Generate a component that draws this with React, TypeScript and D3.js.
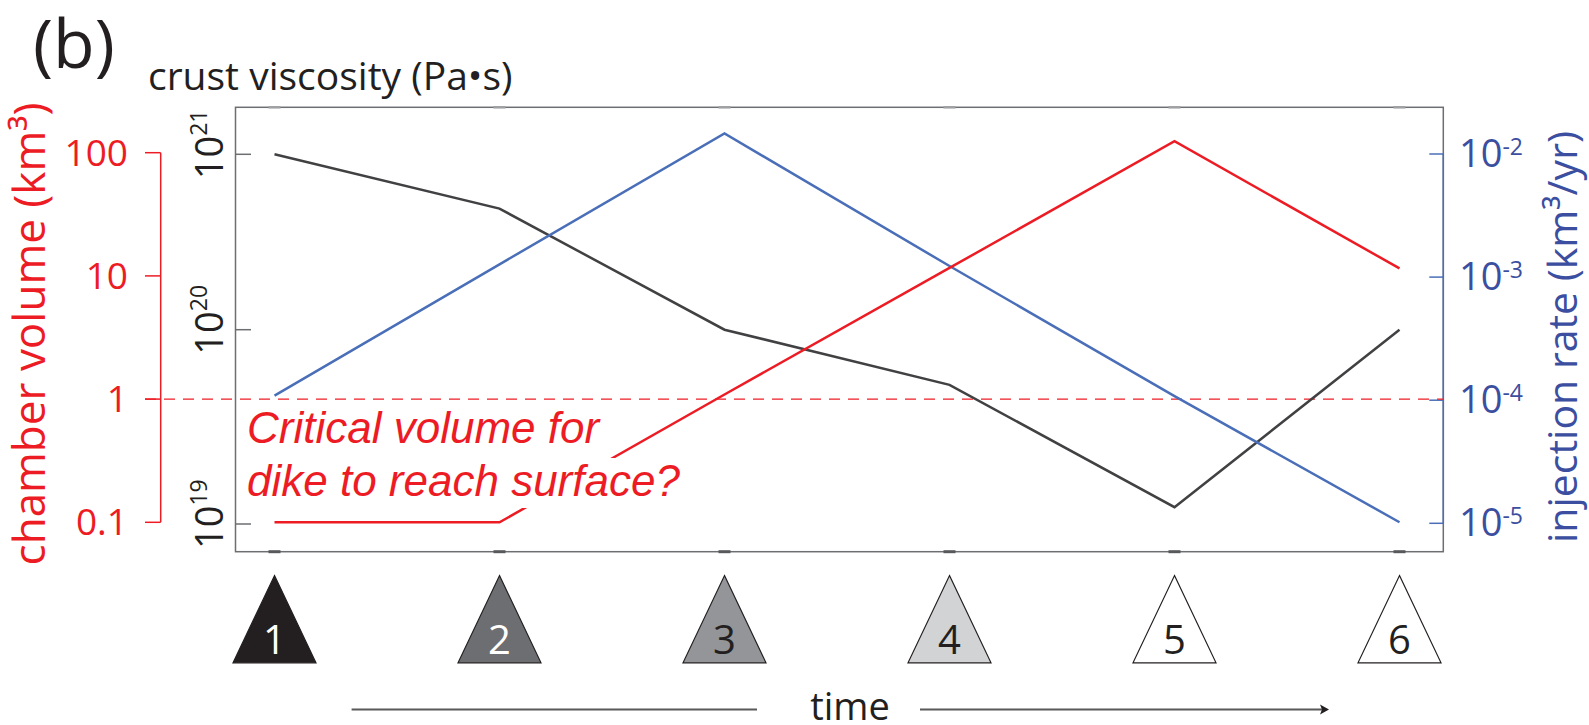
import React from "react";
import * as d3 from "d3";

// ---------- data ----------
const stages = [1, 2, 3, 4, 5, 6];
const stageLabels = ["1", "2", "3", "4", "5", "6"];
const stageFills = ["#231f20", "#6d6e71", "#939598", "#d1d3d4", "#ffffff", "#ffffff"];
const stageTextColors = ["#ffffff", "#ffffff", "#231f20", "#231f20", "#231f20", "#231f20"];

const chamberVolume = [0.1, 0.1, 1.09, 11.6, 124, 11.5]; // km^3
const crustViscosity = [1.0e21, 4.9e20, 1.0e20, 5.2e19, 1.22e19, 1.0e20]; // Pa s
const injectionRate = [1.09e-4, 1.27e-3, 1.47e-2, 1.23e-3, 1.08e-4, 1.02e-5]; // km^3/yr

const volumeTicks = [0.1, 1, 10, 100];
const volumeTickLabels = ["0.1", "1", "10", "100"];
const viscosityTicks = [1e19, 1e20, 1e21];
const viscosityExponents = ["19", "20", "21"];
const rateTicks = [1e-5, 1e-4, 1e-3, 1e-2];
const rateExponents = ["-5", "-4", "-3", "-2"];
const criticalVolume = 1;

// ---------- layout ----------
const W = 1589;
const H = 725;
const frame = { left: 235.5, right: 1443.3, top: 107.3, bottom: 551.7 };
const RED = "#ed1c24";
const BLUE_LINE = "#4a6fb8";
const BLUE_TEXT = "#3b4ea0";
const DARK = "#414042";
const GREY = "#6d6e71";
const SANS = "'Open Sans', 'Noto Sans', sans-serif";
const ITALIC = "'Liberation Sans', Arial, sans-serif";

export default function App() {
  const x = d3.scaleLinear().domain([1, 6]).range([274.5, 1399.5]);
  const yVol = d3.scaleLog().domain([0.1, 100]).range([522.3, 152.7]);
  const yVisc = d3.scaleLog().domain([1e19, 1e20, 1e21]).range([524, 329.7, 154.3]);
  const yRate = d3.scaleLog().domain([1e-5, 1e-2]).range([523.3, 154]);

  const mk = (vals: number[], ys: (v: number) => number) =>
    d3.line<number>().x((_, i) => x(stages[i])).y((v) => ys(v))(vals) || "";

  const redAxisX = 160.7;
  const triTop = 575.6;
  const triBase = 662.8;
  const triHalf = 41.5;
  const timeY = 709.5;

  return (
    <svg
      width={W}
      height={H}
      viewBox={`0 0 ${W} ${H}`}
      style={{ position: "absolute", left: 0, top: 0, background: "#fff" }}
    >
      <rect x={0} y={0} width={W} height={H} fill="#ffffff" />

      {/* panel label and top title */}
      <text x={33} y={68} fontFamily={SANS} fontSize={68} fill="#231f20">(b)</text>
      <text x={148} y={90} fontFamily={SANS} fontSize={39} fill="#231f20">crust viscosity (Pa•s)</text>

      {/* frame */}
      <rect
        x={frame.left}
        y={frame.top}
        width={frame.right - frame.left}
        height={frame.bottom - frame.top}
        fill="none"
        stroke={GREY}
        strokeWidth={1.5}
      />
      {/* stage tick marks on frame */}
      {stages.map((s) => (
        <g key={"ft" + s}>
          <line x1={x(s) - 6} x2={x(s) + 6} y1={frame.bottom} y2={frame.bottom} stroke="#58595b" strokeWidth={3} />
          <line x1={x(s) - 6} x2={x(s) + 6} y1={frame.top} y2={frame.top} stroke="#a0a1a3" strokeWidth={2.5} />
        </g>
      ))}

      {/* red axis (chamber volume) */}
      <line x1={redAxisX} x2={redAxisX} y1={yVol(0.1)} y2={yVol(100)} stroke={RED} strokeWidth={1.5} />
      {volumeTicks.map((t, i) => (
        <g key={"vt" + i}>
          <line x1={145} x2={redAxisX} y1={yVol(t)} y2={yVol(t)} stroke={RED} strokeWidth={1.5} />
          <text x={128} y={yVol(t) + 13} textAnchor="end" fontFamily={SANS} fontSize={37} fill={RED}>
            {volumeTickLabels[i]}
          </text>
        </g>
      ))}
      <text
        transform="translate(45,334) rotate(-90)"
        textAnchor="middle"
        fontFamily={SANS}
        fontSize={44}
        fill={RED}
      >
        chamber volume (km³)
      </text>

      {/* black axis (viscosity) */}
      {viscosityTicks.map((t, i) => (
        <g key={"ct" + i}>
          <line x1={frame.left} x2={frame.left + 15.5} y1={yVisc(t)} y2={yVisc(t)} stroke={GREY} strokeWidth={1.5} />
          <text
            transform={`translate(223,${yVisc(t) + 25}) rotate(-90)`}
            fontFamily={SANS}
            fontSize={38}
            fill="#231f20"
          >
            10
            <tspan fontSize={23} dy={-16}>{viscosityExponents[i]}</tspan>
          </text>
        </g>
      ))}

      {/* blue axis (injection rate) */}
      <line x1={frame.right} x2={frame.right} y1={yRate(1e-5)} y2={yRate(1e-2)} stroke={BLUE_LINE} strokeWidth={1.5} />
      {rateTicks.map((t, i) => (
        <g key={"rt" + i}>
          <line x1={frame.right - 14} x2={frame.right} y1={yRate(t)} y2={yRate(t)} stroke={BLUE_LINE} strokeWidth={1.5} />
          <text x={1459} y={yRate(t) + 13} fontFamily={SANS} fontSize={38} fill={BLUE_TEXT}>
            10
            <tspan fontSize={23} dy={-12}>{rateExponents[i]}</tspan>
          </text>
        </g>
      ))}
      <text
        transform="translate(1577,337) rotate(-90)"
        textAnchor="middle"
        fontFamily={SANS}
        fontSize={41}
        fill={BLUE_TEXT}
      >
        injection rate (km³/yr)
      </text>

      {/* critical volume dashed line */}
      <line
        x1={145}
        x2={frame.right}
        y1={yVol(criticalVolume)}
        y2={yVol(criticalVolume)}
        stroke={RED}
        strokeWidth={1.3}
        strokeDasharray="11,8"
      />

      {/* data lines */}
      <path d={mk(crustViscosity, yVisc)} fill="none" stroke={DARK} strokeWidth={2.5} />
      <path d={mk(injectionRate, yRate)} fill="none" stroke={BLUE_LINE} strokeWidth={2.5} />
      <path d={mk(chamberVolume, yVol)} fill="none" stroke={RED} strokeWidth={2.5} />

      {/* annotation */}
      <rect x={245} y={458} width={452} height={50} fill="#ffffff" />
      <text fontFamily={ITALIC} fontStyle="italic" fontSize={44} fill={RED}>
        <tspan x={247} y={443.3}>Critical volume for</tspan>
        <tspan x={247} y={495.5}>dike to reach surface?</tspan>
      </text>

      {/* stage triangles */}
      {stages.map((s, i) => (
        <g key={"tri" + s}>
          <path
            d={`M${x(s)},${triTop} L${x(s) + triHalf},${triBase} L${x(s) - triHalf},${triBase} Z`}
            fill={stageFills[i]}
            stroke="#231f20"
            strokeWidth={1.2}
          />
          <text x={x(s)} y={654} textAnchor="middle" fontFamily={SANS} fontSize={40} fill={stageTextColors[i]}>
            {stageLabels[i]}
          </text>
        </g>
      ))}

      {/* time arrow */}
      <line x1={351.6} x2={757} y1={timeY} y2={timeY} stroke="#58595b" strokeWidth={2} />
      <line x1={920} x2={1322} y1={timeY} y2={timeY} stroke="#58595b" strokeWidth={2} />
      <path d={`M1329,${timeY} L1320,${timeY - 5} L1322,${timeY} L1320,${timeY + 5} Z`} fill="#231f20" />
      <text x={850} y={720} textAnchor="middle" fontFamily={SANS} fontSize={38} fill="#231f20">time</text>
    </svg>
  );
}
